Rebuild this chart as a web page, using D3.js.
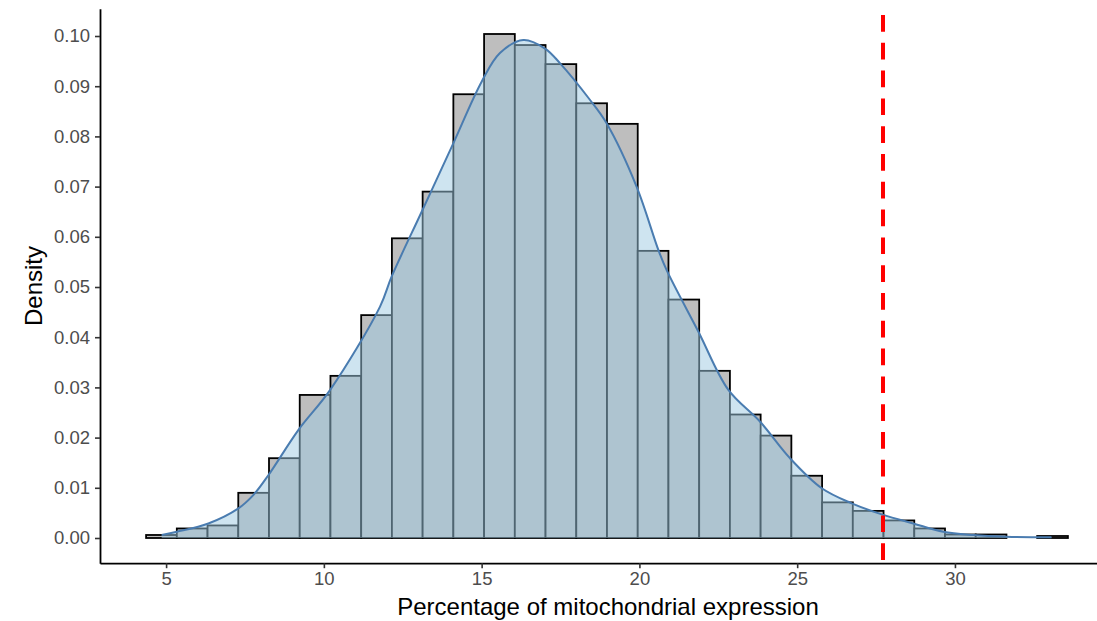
<!DOCTYPE html>
<html>
<head>
<meta charset="utf-8">
<script src="https://cdn.jsdelivr.net/npm/d3@7"></script>
<style>
  html, body { margin: 0; padding: 0; background: #fff; }
  svg { display: block; font-family: "Liberation Sans", Arial, sans-serif; }
</style>
</head>
<body>
<div class="chart"></div>
<script>
// histogram of mito percentage, density scale
const binStart = 4.366;
const binWidth = 0.9738;
const binDensity = [
  0.0006, 0.0019, 0.0025, 0.0090, 0.0159, 0.0285, 0.0323, 0.0444, 0.0597, 0.0690,
  0.0884, 0.1004, 0.0982, 0.0944, 0.0866, 0.0825, 0.0572, 0.0475, 0.0333, 0.0246,
  0.0204, 0.0124, 0.0071, 0.0054, 0.0035, 0.0019, 0.0007, 0.0007, 0.0000, 0.0004
];

// kernel density estimate
const kdeX = [
  4.86, 5.34, 6.34, 7.29, 7.77, 8.24, 9.19, 10.20, 11.78, 12.15,
  13.10, 14.05, 15.00, 15.58, 16.32, 17.01, 17.48, 18.43, 18.96, 19.91,
  20.60, 20.86, 21.87, 22.82, 23.82, 24.77, 25.78, 26.73, 27.73, 28.68,
  29.63, 30.58, 31.64, 33.06
];
const kdeY = [
  0.0006, 0.00125, 0.0029, 0.0059, 0.0086, 0.0125, 0.0215, 0.0295, 0.0461, 0.0521,
  0.0650, 0.0779, 0.0909, 0.0966, 0.0992, 0.0975, 0.0946, 0.0873, 0.0826, 0.0700,
  0.0574, 0.0534, 0.0411, 0.0295, 0.0232, 0.0159, 0.0099, 0.0069, 0.0046, 0.0029,
  0.00125, 0.0006, 0.00026, 0.00014
];

const cutoff = 27.72;

const xTicks = [5, 10, 15, 20, 25, 30];
const yTicks = [0, 0.01, 0.02, 0.03, 0.04, 0.05, 0.06, 0.07, 0.08, 0.09, 0.10];

const xLabel = "Percentage of mitochondrial expression";
const yLabel = "Density";

const w = 1097, h = 621;
const margin = { left: 100, top: 8.8, bottom: 563.2 };

const bins = binDensity.map((d, i) => ({
  x0: binStart + i * binWidth,
  x1: binStart + (i + 1) * binWidth,
  y: d
}));

const xMin = bins[0].x0, xMax = bins[bins.length - 1].x1;
const xPad = (xMax - xMin) * 0.05;
const xScale = d3.scaleLinear()
  .domain([xMin - xPad, xMax + xPad])
  .range([margin.left, 1114]);

const yMax = d3.max(binDensity);
const yPad = yMax * 0.05;
const yScale = d3.scaleLinear()
  .domain([-yPad, yMax + yPad])
  .range([margin.bottom, margin.top]);

const svg = d3.select(".chart").append("svg")
  .attr("width", w)
  .attr("height", h)
  .attr("viewBox", `0 0 ${w} ${h}`);

// bars
svg.append("g")
  .selectAll("rect")
  .data(bins)
  .enter()
  .append("rect")
  .attr("x", d => xScale(d.x0))
  .attr("y", d => yScale(d.y))
  .attr("width", d => xScale(d.x1) - xScale(d.x0))
  .attr("height", d => yScale(0) - yScale(d.y))
  .attr("fill", "#bebebe")
  .attr("stroke", "#000")
  .attr("stroke-width", 1.8);

// density area + outline
const kde = kdeX.map((x, i) => [x, kdeY[i]]);

const area = d3.area()
  .x(d => xScale(d[0]))
  .y0(yScale(0))
  .y1(d => yScale(d[1]))
  .curve(d3.curveCatmullRom);

svg.append("path")
  .datum(kde)
  .attr("d", area)
  .attr("fill", "#9ecae1")
  .attr("fill-opacity", 0.5);

const line = d3.line()
  .x(d => xScale(d[0]))
  .y(d => yScale(d[1]))
  .curve(d3.curveCatmullRom);

svg.append("path")
  .datum(kde)
  .attr("d", line)
  .attr("fill", "none")
  .attr("stroke", "#4a7cb0")
  .attr("stroke-width", 2);

// cutoff line
svg.append("line")
  .attr("x1", xScale(cutoff))
  .attr("x2", xScale(cutoff))
  .attr("y1", margin.top)
  .attr("y2", margin.bottom)
  .attr("stroke", "#ff0000")
  .attr("stroke-width", 4)
  .attr("stroke-dasharray", "16.7 11.1")
  .attr("stroke-dashoffset", 21.6);

// axes
const xAxis = d3.axisBottom(xScale)
  .tickValues(xTicks)
  .tickSizeInner(5)
  .tickSizeOuter(0)
  .tickPadding(4)
  .tickFormat(d3.format("d"));

const yAxis = d3.axisLeft(yScale)
  .tickValues(yTicks)
  .tickSizeInner(5)
  .tickSizeOuter(0)
  .tickPadding(5)
  .tickFormat(d3.format(".2f"));

const gx = svg.append("g")
  .attr("transform", "translate(0," + margin.bottom + ")")
  .call(xAxis);

const gy = svg.append("g")
  .attr("transform", "translate(" + margin.left + ",0)")
  .call(yAxis);

[gx, gy].forEach(g => {
  g.select(".domain").attr("stroke", "#000").attr("stroke-width", 1.8);
  g.selectAll(".tick line").attr("stroke", "#333").attr("stroke-width", 1.6);
  g.selectAll(".tick text")
    .attr("fill", "#4d4d4d")
    .style("font-size", "18.5px")
    .style("font-family", "'Liberation Sans', Arial, sans-serif");
});

// axis titles
svg.append("text")
  .attr("x", 608)
  .attr("y", 615)
  .attr("text-anchor", "middle")
  .style("font-size", "24px")
  .attr("fill", "#000")
  .text(xLabel);

svg.append("text")
  .attr("transform", `translate(42,${(margin.top + margin.bottom) / 2}) rotate(-90)`)
  .attr("text-anchor", "middle")
  .style("font-size", "24px")
  .attr("fill", "#000")
  .text(yLabel);
</script>
</body>
</html>
